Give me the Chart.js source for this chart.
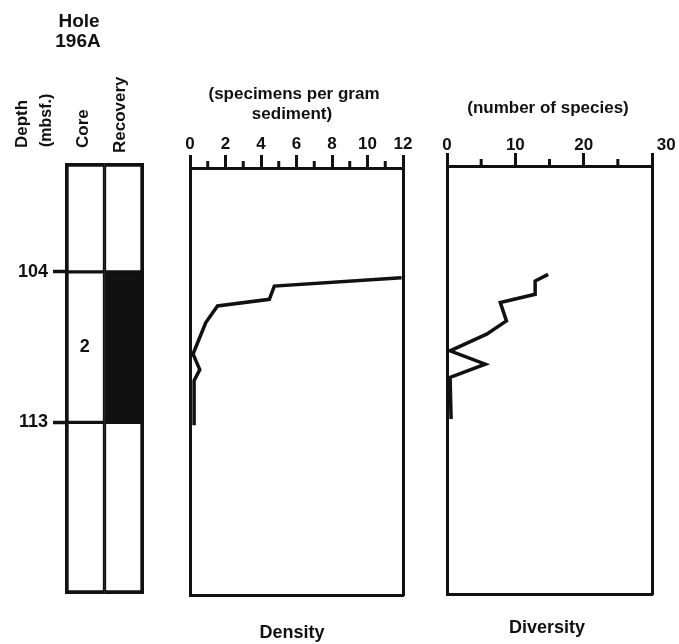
<!DOCTYPE html>
<html>
<head>
<meta charset="utf-8">
<script src="https://cdn.jsdelivr.net/npm/chart.js@4"></script>
<style>
  body { margin: 0; background: #fff; }
  #wrap { position: relative; width: 679px; height: 644px; font-family: "Liberation Sans", Arial, sans-serif; font-weight: bold; color: #111; }
  #wrap canvas { position: absolute; left: 0; top: 0; }
  .t { position: absolute; white-space: nowrap; line-height: 1; }
  .c { transform: translate(-50%, -50%); }
  .r { transform-origin: left top; transform: rotate(-90deg); }
</style>
</head>
<body>
<div id="wrap">
  <canvas id="core" width="679" height="644"></canvas>
  <canvas id="density" width="679" height="644"></canvas>
  <canvas id="diversity" width="679" height="644"></canvas>

  <div class="t c" style="left:79px; top:20px; font-size:19px;">Hole</div>
  <div class="t c" style="left:78px; top:40px; font-size:19px;">196A</div>
  <div class="t r" style="left:13px; top:148px; font-size:17px;">Depth</div>
  <div class="t r" style="left:38px; top:147px; font-size:16px;">(mbsf.)</div>
  <div class="t r" style="left:74px; top:148px; font-size:17px;">Core</div>
  <div class="t r" style="left:111px; top:153px; font-size:17px;">Recovery</div>

  <div class="t c" style="left:294px; top:93px; font-size:17px;">(specimens per gram</div>
  <div class="t c" style="left:292px; top:113px; font-size:17px;">sediment)</div>
  <div class="t c" style="left:548px; top:107px; font-size:17px;">(number of species)</div>
  <div class="t c" style="left:292px; top:632px; font-size:18px;">Density</div>
  <div class="t c" style="left:547px; top:627px; font-size:18px;">Diversity</div>
</div>
<script>
// depth column (mbsf)
const depthTicks = [104, 113];
const coreNames = ['2'];
const coreTops = [104];
const coreBottoms = [113];
const recoveryTops = [104];
const recoveryBottoms = [113];

// density: specimens per gram sediment
const densityTicks = [0, 2, 4, 6, 8, 10, 12];
const densityMinor = [1, 3, 5, 7, 9, 11];
const densityDepth = [104.12, 104.62, 105.42, 105.82, 106.82, 108.72, 109.66, 110.32, 113.02];
const densityValue = [11.92, 4.75, 4.47, 1.55, 0.89, 0.17, 0.55, 0.23, 0.23];

// diversity: number of species
const diversityTicks = [0, 10, 20, 30];
const diversityMinor = [5, 15, 25];
const diversityDepth = [104.02, 104.42, 105.22, 105.72, 106.82, 107.62, 108.62, 109.42, 110.22, 112.72];
const diversityValue = [14.8, 12.9, 12.9, 7.8, 8.7, 5.8, 0.45, 5.6, 0.45, 0.6];

const depthMin = 97.5, depthMax = 123.25;
const ink = '#111';

Chart.defaults.font.family = '"Liberation Sans", Arial, sans-serif';
Chart.defaults.font.weight = 'bold';
Chart.defaults.color = ink;
Chart.defaults.animation = false;
Chart.defaults.responsive = false;
Chart.defaults.events = [];
Chart.defaults.plugins.legend.display = false;
Chart.defaults.plugins.tooltip.enabled = false;

// core number written in the middle of its section
const coreLabel = {
  id: 'coreLabel',
  afterDatasetsDraw(chart) {
    const { ctx, scales: { x, y } } = chart;
    ctx.save();
    ctx.font = 'bold 18px "Liberation Sans", Arial, sans-serif';
    ctx.fillStyle = ink;
    ctx.textAlign = 'center';
    ctx.textBaseline = 'middle';
    coreNames.forEach((n, i) => {
      ctx.fillText(n, x.getPixelForValue(0), y.getPixelForValue((coreTops[i] + coreBottoms[i]) / 2));
    });
    ctx.restore();
  }
};

// short unlabelled ticks between the labelled ones
const minorTicks = {
  id: 'minorTicks',
  afterDraw(chart, args, opts) {
    const s = chart.scales.x, ctx = chart.ctx;
    ctx.save();
    ctx.strokeStyle = ink;
    ctx.lineWidth = 3;
    opts.values.forEach(v => {
      const px = s.getPixelForValue(v);
      ctx.beginPath();
      ctx.moveTo(px, s.bottom);
      ctx.lineTo(px, s.bottom - opts.length);
      ctx.stroke();
    });
    ctx.restore();
  }
};

// core / recovery column as floating bars
const sections = [
  { core: [depthMin, coreTops[0]], rec: [depthMin, recoveryTops[0]], fill: ['#fff', '#fff'] },
  { core: [coreTops[0], coreBottoms[0]], rec: [recoveryTops[0], recoveryBottoms[0]], fill: ['#fff', ink] },
  { core: [coreBottoms[0], depthMax], rec: [recoveryBottoms[0], depthMax], fill: ['#fff', '#fff'] }
];

new Chart(document.getElementById('core'), {
  type: 'bar',
  data: {
    labels: ['Core', 'Recovery'],
    datasets: sections.map((s, i) => ({
      data: [s.core, s.rec],
      backgroundColor: s.fill,
      borderColor: ink,
      borderSkipped: false,
      grouped: false,
      barPercentage: 1,
      categoryPercentage: 1,
      borderWidth: ctx => ({
        left: ctx.dataIndex === 0 ? 4 : 2,
        right: ctx.dataIndex === 1 ? 4 : 2,
        top: i === 0 ? 4 : 2,
        bottom: i === sections.length - 1 ? 4 : 2
      })
    }))
  },
  options: {
    layout: { padding: { left: 0, right: 535, top: 163, bottom: 50 } },
    scales: {
      x: { display: false },
      y: {
        reverse: true, min: depthMin, max: depthMax,
        afterFit: s => { s.width = 65; },
        afterBuildTicks: s => { s.ticks = depthTicks.map(v => ({ value: v })); },
        border: { display: false },
        grid: { drawOnChartArea: false, tickLength: 12, tickWidth: 3.5, tickColor: ink },
        ticks: { font: { size: 18 }, padding: 5, color: ink }
      }
    }
  },
  plugins: [coreLabel]
});

function profile(id, values, depths, major, minor, xMax, area, labelPad, fmt) {
  const edge = { color: ink, width: 3 };
  const side = {
    reverse: true, min: depthMin, max: depthMax,
    afterFit: s => { s.width = 10; },
    ticks: { display: false },
    grid: { drawOnChartArea: false, drawTicks: false },
    border: edge
  };
  return new Chart(document.getElementById(id), {
    type: 'scatter',
    data: {
      datasets: [{
        data: depths.map((d, i) => ({ x: values[i], y: d })),
        showLine: true,
        borderColor: ink,
        borderWidth: 3.5,
        pointRadius: 0
      }]
    },
    options: {
      layout: { padding: { left: area.left - 10, right: 679 - area.right - 10, top: area.top - 60, bottom: 644 - area.bottom - 10 } },
      plugins: { minorTicks: { values: minor, length: 7 } },
      scales: {
        x: {
          position: 'top', min: 0, max: xMax,
          afterFit: s => { s.height = 60; },
          afterBuildTicks: s => { s.ticks = major.map(v => ({ value: v })); },
          border: edge,
          grid: { drawOnChartArea: false, tickLength: 13, tickWidth: 3, tickColor: ink },
          ticks: { font: { size: 17 }, padding: labelPad, maxRotation: 0, autoSkip: false, color: ink, callback: fmt }
        },
        x2: {
          position: 'bottom', min: 0, max: xMax,
          afterFit: s => { s.height = 10; },
          ticks: { display: false },
          grid: { drawOnChartArea: false, drawTicks: false },
          border: edge
        },
        y: { ...side, position: 'left' },
        y2: { ...side, position: 'right' }
      }
    },
    plugins: [minorTicks]
  });
}

profile('density', densityValue, densityDepth, densityTicks, densityMinor, 12,
  { left: 190, right: 403, top: 168, bottom: 595 }, 0, v => String(v));
profile('diversity', diversityValue, diversityDepth, diversityTicks, diversityMinor, 30,
  { left: 447, right: 652, top: 166, bottom: 594 }, -3, v => v === 30 ? '\u2007\u2007\u200730' : String(v));
</script>
</body>
</html>
